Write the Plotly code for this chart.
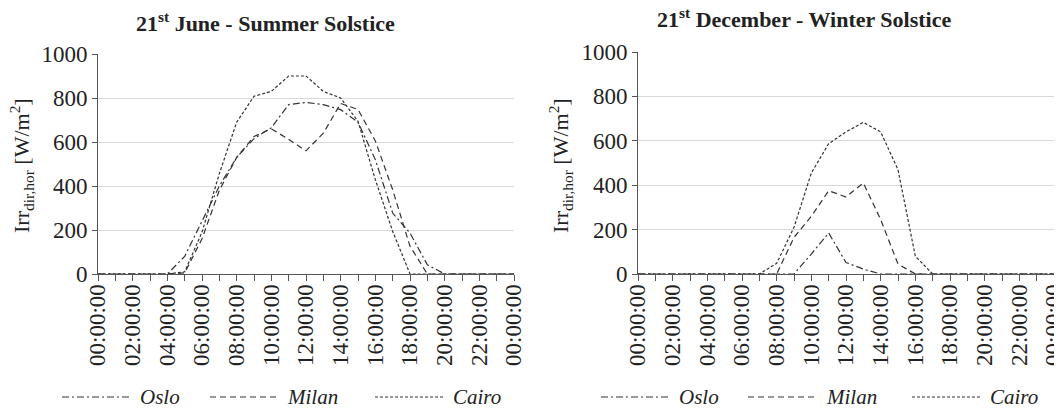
import plotly.graph_objects as go

hours = list(range(25))
tick_labels = ["00:00:00", "", "02:00:00", "", "04:00:00", "", "06:00:00", "", "08:00:00", "",
               "10:00:00", "", "12:00:00", "", "14:00:00", "", "16:00:00", "", "18:00:00", "",
               "20:00:00", "", "22:00:00", "", "00:00:00"]
cities = ["Oslo", "Milan", "Cairo"]

# 21st June (W/m2), hourly 00:00 .. 24:00
june_oslo = [0, 0, 0, 0, 0, 80, 240, 400, 530, 615, 665, 770, 780, 770, 747, 690, 520, 277, 186, 42, 0, 0, 0, 0, 0]
june_milan = [0, 0, 0, 0, 0, 5, 160, 380, 530, 625, 660, 612, 560, 640, 775, 748, 605, 383, 126, 0, 0, 0, 0, 0, 0]
june_cairo = [0, 0, 0, 0, 0, 10, 190, 456, 690, 808, 830, 900, 900, 830, 800, 694, 429, 194, 0, 0, 0, 0, 0, 0, 0]

# 21st December (W/m2)
dec_oslo = [0, 0, 0, 0, 0, 0, 0, 0, 0, 0, 90, 185, 52, 22, 0, 0, 0, 0, 0, 0, 0, 0, 0, 0, 0]
dec_milan = [0, 0, 0, 0, 0, 0, 0, 0, 0, 165, 260, 375, 347, 410, 245, 45, 0, 0, 0, 0, 0, 0, 0, 0, 0]
dec_cairo = [0, 0, 0, 0, 0, 0, 0, 0, 48, 210, 455, 587, 640, 683, 640, 470, 80, 0, 0, 0, 0, 0, 0, 0, 0]

dashes = {"Oslo": "7px,3px,2px,3px", "Milan": "6px,4px", "Cairo": "3px,2px"}
LC = "#333333"
FONT = "Liberation Serif"
W, H = 1062, 414
OFF = 8  # page body margin of the written html


def px(x):
    return (x - OFF) / W


def py(y):
    return 1 - (y - OFF) / H


fig = go.Figure()
for name, vals in zip(cities, [june_oslo, june_milan, june_cairo]):
    fig.add_trace(go.Scatter(x=hours, y=vals, mode="lines", name=name, showlegend=False,
                             line=dict(color=LC, width=1.2, dash=dashes[name]),
                             xaxis="x", yaxis="y"))
for name, vals in zip(cities, [dec_oslo, dec_milan, dec_cairo]):
    fig.add_trace(go.Scatter(x=hours, y=vals, mode="lines", name=name, showlegend=False,
                             line=dict(color=LC, width=1.2, dash=dashes[name]),
                             xaxis="x2", yaxis="y2"))

xax = dict(range=[0, 24], tickmode="array", tickvals=hours, ticktext=tick_labels,
           tickangle=-90, ticks="outside", ticklen=6, tickcolor="#555", tickwidth=1,
           ticklabelstandoff=-6,
           showline=True, linecolor="#555", linewidth=1, showgrid=False, zeroline=False,
           automargin=False, tickfont=dict(family=FONT, size=23, color="#222"))
yax = dict(range=[0, 1000], tickvals=[0, 200, 400, 600, 800, 1000], ticks="outside", ticklen=5,
           tickcolor="#555", showline=True, linecolor="#555", linewidth=1,
           showgrid=True, gridcolor="#d9d9d9", gridwidth=1, zeroline=False,
           automargin=False, tickfont=dict(family=FONT, size=23, color="#222"))

# hand-drawn legends (line sample + italic label) below each panel
legend_pos = [  # (line start x, text x) in pixels
    [(62, 138), (210, 285), (375, 451)],
    [(601, 677), (748, 824), (912, 988)],
]
shapes = []
annotations = []
LEG_Y = 397
for panel in legend_pos:
    for name, (lx, tx) in zip(cities, panel):
        shapes.append(dict(type="line", xref="paper", yref="paper",
                           x0=px(lx), x1=px(lx + 70), y0=py(LEG_Y), y1=py(LEG_Y),
                           line=dict(color=LC, width=1.2, dash=dashes[name])))
        annotations.append(dict(text="<i>" + name + "</i>", x=px(tx), y=py(LEG_Y),
                                xref="paper", yref="paper", showarrow=False,
                                xanchor="left", yanchor="middle",
                                font=dict(family=FONT, size=21, color="#222")))

annotations += [
    dict(text="<b>21<sup>st</sup> June - Summer Solstice</b>", x=px(265), y=py(22),
         xref="paper", yref="paper", showarrow=False, xanchor="center", yanchor="middle",
         font=dict(family=FONT, size=22, color="#222")),
    dict(text="<b>21<sup>st</sup> December - Winter Solstice</b>", x=px(804), y=py(18),
         xref="paper", yref="paper", showarrow=False, xanchor="center", yanchor="middle",
         font=dict(family=FONT, size=22, color="#222")),
    dict(text="Irr<sub>dir,hor</sub> [W/m<sup>2</sup>]", x=px(22), y=py(166),
         xref="paper", yref="paper", showarrow=False, textangle=-90,
         xanchor="center", yanchor="middle", font=dict(family=FONT, size=22, color="#222")),
    dict(text="Irr<sub>dir,hor</sub> [W/m<sup>2</sup>]", x=px(561), y=py(166),
         xref="paper", yref="paper", showarrow=False, textangle=-90,
         xanchor="center", yanchor="middle", font=dict(family=FONT, size=22, color="#222")),
]

fig.update_layout(
    width=W, height=H, margin=dict(l=0, r=0, t=0, b=0, autoexpand=False),
    paper_bgcolor="white", plot_bgcolor="white", showlegend=False,
    xaxis=dict(xax, domain=[px(98), px(514)], anchor="y"),
    yaxis=dict(yax, domain=[py(274), py(54)], anchor="x"),
    xaxis2=dict(xax, domain=[px(638), px(1054)], anchor="y2"),
    yaxis2=dict(yax, domain=[py(274), py(52)], anchor="x2"),
    shapes=shapes,
    annotations=annotations,
)

fig.write_html("out.html")
